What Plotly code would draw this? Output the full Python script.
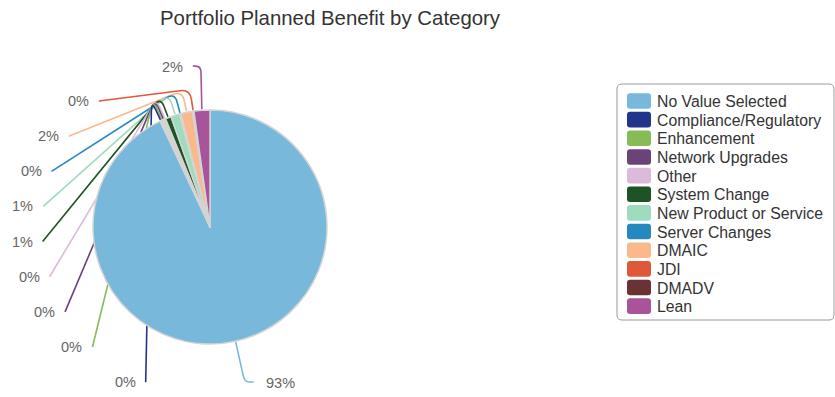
import math
import plotly.graph_objects as go

# ---------------- data ----------------
categories = [
    "No Value Selected", "Compliance/Regulatory", "Enhancement", "Network Upgrades",
    "Other", "System Change", "New Product or Service", "Server Changes",
    "DMAIC", "JDI", "DMADV", "Lean",
]
values = [93.0, 0.2, 0.2, 0.2, 0.2, 0.8, 1.2, 0.2, 1.6, 0.2, 0.0, 2.2]
colors = [
    "#78b8da", "#23358a", "#86bb56", "#6a4478", "#dcbadc", "#1f5224",
    "#9ddcbd", "#2489bf", "#fbb98b", "#e0583a", "#6a3232", "#a8549b",
]
title_text = "Portfolio Planned Benefit by Category"

# ---------------- layout constants (pixels) ----------------
W, H = 835, 397
CX, CY, R = 210, 227, 117          # pie centre and radius
FONT = "Liberation Sans, Arial, sans-serif"


def fx(x):
    return x / W


def fy(y):
    return 1 - y / H


def pt(x, y):
    return f"{fx(x):.5f},{fy(y):.5f}"


total = sum(values)
cum = 0.0
mids = []
for v in values:
    mids.append((cum + v / 2) / total * 360.0)
    cum += v

pct_text = [f"{round(v / total * 100)}%" for v in values]


def edge(a_deg, r):
    a = math.radians(a_deg)
    return CX + r * math.sin(a), CY - r * math.cos(a)


def rounded_poly(points, rad=6):
    """polyline with softened corners"""
    d = "M" + pt(*points[0])
    for i in range(1, len(points) - 1):
        px_, py_ = points[i]
        ax, ay = points[i - 1]
        bx, by = points[i + 1]
        la = math.hypot(ax - px_, ay - py_) or 1
        lb = math.hypot(bx - px_, by - py_) or 1
        ra = min(rad, la / 2)
        rb = min(rad, lb / 2)
        p1 = (px_ + (ax - px_) / la * ra, py_ + (ay - py_) / la * ra)
        p2 = (px_ + (bx - px_) / lb * rb, py_ + (by - py_) / lb * rb)
        d += " L" + pt(*p1) + " Q" + pt(px_, py_) + " " + pt(*p2)
    d += " L" + pt(*points[-1])
    return d


shapes = []
annotations = []

# ---------------- data labels with connectors ----------------
LABEL_FONT = dict(family=FONT, size=14.5, color="#666666")
RL = 168.0          # radius of the label arc
Y_TOP = 101.0       # first left label
STEP = 35.15        # label spacing
LW = 1.6

n = len(values)
left_idx = [i for i in range(n - 2, 0, -1) if values[i] > 0]   # small slices, top to bottom
top_idx = n - 1                                                  # last slice sits above the pie

for k, i in enumerate(left_idx):
    ly = Y_TOP + STEP * k
    lx = CX - math.sqrt(max(RL ** 2 - (ly - CY) ** 2, 0))
    ex, ey = edge(mids[i], R + 1)
    hx, hy = edge(mids[i], R + 22)
    shapes.append(dict(type="path", xref="paper", yref="paper", layer="below",
                       path=rounded_poly([(lx, ly), (hx, hy), (ex, ey)], 10),
                       line=dict(color=colors[i], width=LW)))
    annotations.append(dict(x=fx(lx - 8), y=fy(ly), xref="paper", yref="paper",
                            text=pct_text[i], showarrow=False, xanchor="right",
                            yanchor="middle", font=LABEL_FONT))

# top label (last slice)
ex, ey = edge(mids[top_idx], R + 1)
ly = Y_TOP - STEP
lx = ex - 9
shapes.append(dict(type="path", xref="paper", yref="paper", layer="below",
                   path=rounded_poly([(lx, ly), (ex - 1, ly + 1), (ex, ey)], 5),
                   line=dict(color=colors[top_idx], width=LW)))
annotations.append(dict(x=fx(lx - 8), y=fy(ly + 1), xref="paper", yref="paper",
                        text=pct_text[top_idx], showarrow=False, xanchor="right",
                        yanchor="middle", font=LABEL_FONT))

# big slice label
ex, ey = edge(mids[0], R + 1)
a = math.radians(mids[0])
dx, dy = math.sin(a), -math.cos(a)
ly = CY + 155
t = (ly - ey) / dy
hx, hy = ex + dx * t, ly
lx = hx + 9
shapes.append(dict(type="path", xref="paper", yref="paper", layer="below",
                   path=rounded_poly([(ex, ey), (hx, hy), (lx, ly)], 6),
                   line=dict(color=colors[0], width=LW)))
annotations.append(dict(x=fx(lx + 10), y=fy(ly + 1), xref="paper", yref="paper",
                        text=pct_text[0], showarrow=False, xanchor="left",
                        yanchor="middle", font=LABEL_FONT))

# ---------------- legend (drawn box) ----------------
LG_X0, LG_Y0, LG_X1, LG_Y1 = 617, 84, 834, 320
ITEM0, ITEM_STEP = 101.0, 18.65


def rrect(x0, y0, x1, y1, r):
    return (f"M{pt(x0 + r, y0)} L{pt(x1 - r, y0)} Q{pt(x1, y0)} {pt(x1, y0 + r)} "
            f"L{pt(x1, y1 - r)} Q{pt(x1, y1)} {pt(x1 - r, y1)} "
            f"L{pt(x0 + r, y1)} Q{pt(x0, y1)} {pt(x0, y1 - r)} "
            f"L{pt(x0, y0 + r)} Q{pt(x0, y0)} {pt(x0 + r, y0)} Z")


shapes.append(dict(type="path", xref="paper", yref="paper", path=rrect(LG_X0, LG_Y0, LG_X1, LG_Y1, 5),
                   line=dict(color="#9a9a9a", width=1), fillcolor="white", layer="below"))
for i, (name, c) in enumerate(zip(categories, colors)):
    yc = ITEM0 + ITEM_STEP * i
    shapes.append(dict(type="path", xref="paper", yref="paper",
                       path=rrect(627, yc - 7.8, 651, yc + 7.8, 3),
                       line=dict(width=0), fillcolor=c))
    annotations.append(dict(x=fx(655), y=fy(yc + 0.5), xref="paper", yref="paper",
                            text=name, showarrow=False, xanchor="left", yanchor="middle",
                            font=dict(family=FONT, size=15.8, color="#333333")))

# ---------------- title ----------------
annotations.append(dict(x=fx(330), y=fy(18), xref="paper", yref="paper", text=title_text,
                        showarrow=False, xanchor="center", yanchor="middle",
                        font=dict(family=FONT, size=20.4, color="#333333")))

fig = go.Figure(go.Pie(
    labels=categories, values=values, sort=False, direction="clockwise", rotation=0,
    marker=dict(colors=colors, line=dict(color="#d4d4d4", width=1.5)),
    textinfo="none", hoverinfo="label+percent", showlegend=False,
    domain=dict(x=[fx(CX - R), fx(CX + R)], y=[fy(CY + R), fy(CY - R)]),
))
fig.update_layout(
    width=W, height=H, margin=dict(l=0, r=0, t=0, b=0),
    paper_bgcolor="white", plot_bgcolor="white",
    shapes=shapes, annotations=annotations, showlegend=False,
)
fig.write_html("out.html", config={"displayModeBar": False},
               post_script="document.body.style.margin='0';")
